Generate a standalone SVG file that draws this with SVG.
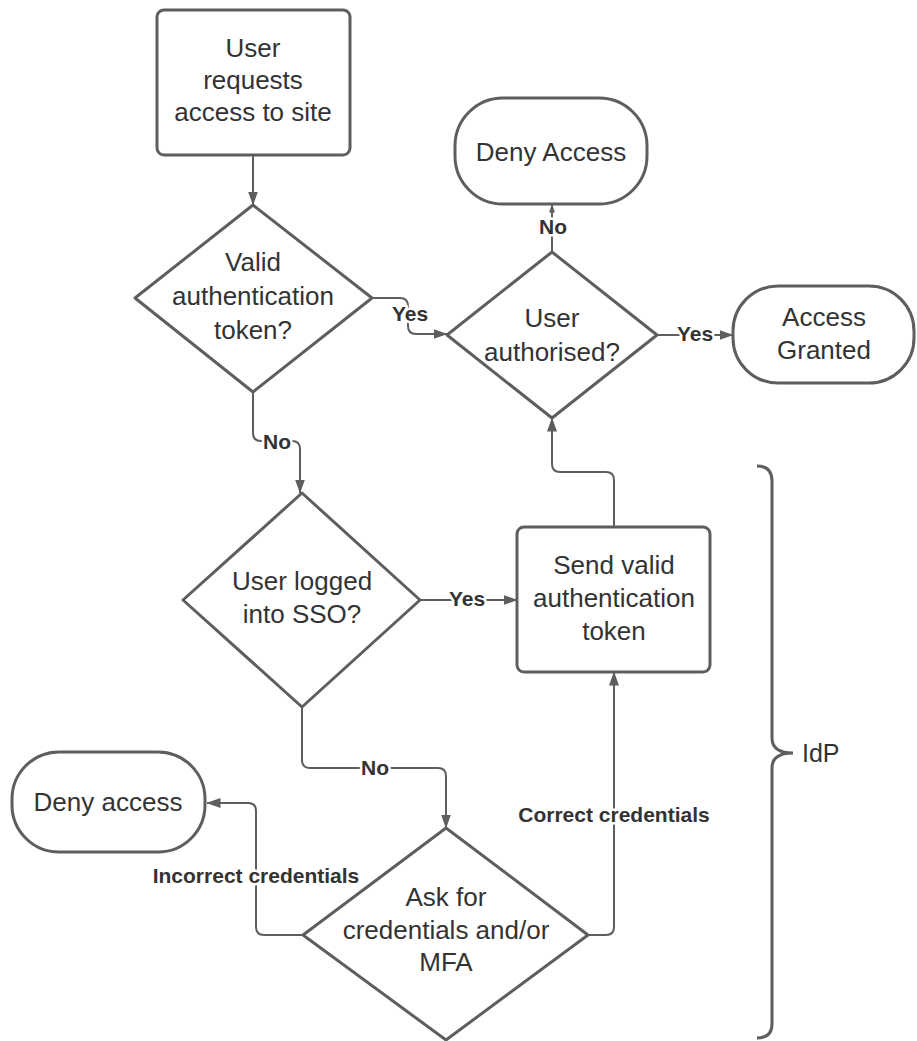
<svg xmlns="http://www.w3.org/2000/svg" width="917" height="1041" viewBox="0 0 917 1041">
<style>
.s{fill:#ffffff;stroke:#5e5e5e;stroke-width:3;}
.t{font-family:"Liberation Sans",Arial,sans-serif;font-size:26px;fill:#333333;text-anchor:middle;}
.c{fill:none;stroke:#5e5e5e;stroke-width:2;}
.l{font-family:"Liberation Sans",Arial,sans-serif;font-size:21px;font-weight:bold;fill:#333333;text-anchor:middle;stroke:#ffffff;stroke-width:5;paint-order:stroke;stroke-linejoin:round;}
</style>
<defs>
<marker id="a" viewBox="0 0 14 10" refX="13.5" refY="5" markerWidth="14" markerHeight="10" markerUnits="userSpaceOnUse" orient="auto">
<path d="M0,0 L14,5 L0,10 Z" fill="#5e5e5e"/>
</marker>
<marker id="as" viewBox="0 0 8 6" refX="7.5" refY="3" markerWidth="8" markerHeight="6" markerUnits="userSpaceOnUse" orient="auto">
<path d="M0,0 L8,3 L0,6 Z" fill="#5e5e5e"/>
</marker>
</defs>
<rect width="917" height="1041" fill="#ffffff"/>
<g id="connectors">
<path class="c" d="M253,155 L253,205" marker-end="url(#a)"/>
<path class="c" d="M372,298 L400,298 Q408,298 408,306 L408,326 Q408,334 416,334 L447,334" marker-end="url(#a)"/>
<path class="c" d="M552,252 L552,205" marker-end="url(#as)"/>
<path class="c" d="M657,335 L733,335" marker-end="url(#a)"/>
<path class="c" d="M253,392 L253,433 Q253,441 261,441 L292,441 Q300,441 300,449 L300,493" marker-end="url(#a)"/>
<path class="c" d="M420,600 L517,600" marker-end="url(#a)"/>
<path class="c" d="M614,527 L614,480 Q614,472 606,472 L560,472 Q552,472 552,464 L552,418" marker-end="url(#a)"/>
<path class="c" d="M302,707 L302,760 Q302,768 310,768 L438,768 Q446,768 446,776 L446,828" marker-end="url(#a)"/>
<path class="c" d="M303,935 L264,935 Q256,935 256,927 L256,811 Q256,803 248,803 L207,803" marker-end="url(#a)"/>
<path class="c" d="M588,935 L606,935 Q614,935 614,927 L614,672" marker-end="url(#a)"/>
<text class="l" x="410" y="321">Yes</text>
<text class="l" x="553" y="234">No</text>
<text class="l" x="695" y="341">Yes</text>
<text class="l" x="277" y="449">No</text>
<text class="l" x="467" y="606">Yes</text>
<text class="l" x="375" y="775">No</text>
<text class="l" x="256" y="883">Incorrect credentials</text>
<text class="l" x="614" y="822">Correct credentials</text>
</g>
<g id="n-request">
<rect class="s" x="157" y="10" width="193" height="145" rx="7"/>
<text class="t" x="253" y="57">User</text>
<text class="t" x="253" y="89">requests</text>
<text class="t" x="253" y="121">access to site</text>
</g>
<g id="n-token">
<path class="s" d="M253,205 L372,298 L253,392 L135,298 Z" stroke-linejoin="round"/>
<text class="t" x="253" y="271">Valid</text>
<text class="t" x="253" y="305">authentication</text>
<text class="t" x="253" y="339">token?</text>
</g>
<g id="n-authorised">
<path class="s" d="M552,252 L657,335 L552,418 L447,335 Z" stroke-linejoin="round"/>
<text class="t" x="552" y="327">User</text>
<text class="t" x="552" y="361">authorised?</text>
</g>
<g id="n-deny-top">
<rect class="s" x="455" y="98" width="192" height="106" rx="48" ry="48"/>
<text class="t" x="551" y="161">Deny Access</text>
</g>
<g id="n-granted">
<rect class="s" x="733" y="286" width="181" height="97" rx="45" ry="45"/>
<text class="t" x="824" y="326">Access</text>
<text class="t" x="824" y="359">Granted</text>
</g>
<g id="n-sso">
<path class="s" d="M302,493 L420,600 L302,707 L183,600 Z" stroke-linejoin="round"/>
<text class="t" x="302" y="590">User logged</text>
<text class="t" x="302" y="623">into SSO?</text>
</g>
<g id="n-send">
<rect class="s" x="517" y="527" width="193" height="145" rx="7"/>
<text class="t" x="614" y="574">Send valid</text>
<text class="t" x="614" y="607">authentication</text>
<text class="t" x="614" y="640">token</text>
</g>
<g id="n-ask">
<path class="s" d="M446,828 L588,935 L446,1040 L303,935 Z" stroke-linejoin="round"/>
<text class="t" x="446" y="906">Ask for</text>
<text class="t" x="446" y="939">credentials and/or</text>
<text class="t" x="446" y="971">MFA</text>
</g>
<g id="n-deny-bottom">
<rect class="s" x="12" y="752" width="193" height="100" rx="47" ry="47"/>
<text class="t" x="108" y="811">Deny access</text>
</g>
<g id="n-idp">
<path d="M757,466 Q772,466 772,481 L772,738 Q772,753 793,753 Q772,753 772,768 L772,1024 Q772,1038 757,1038" fill="none" stroke="#5e5e5e" stroke-width="3"/>
<text x="802" y="762" font-family="Liberation Sans, Arial, sans-serif" font-size="25" fill="#333333">IdP</text>
</g>
</svg>
